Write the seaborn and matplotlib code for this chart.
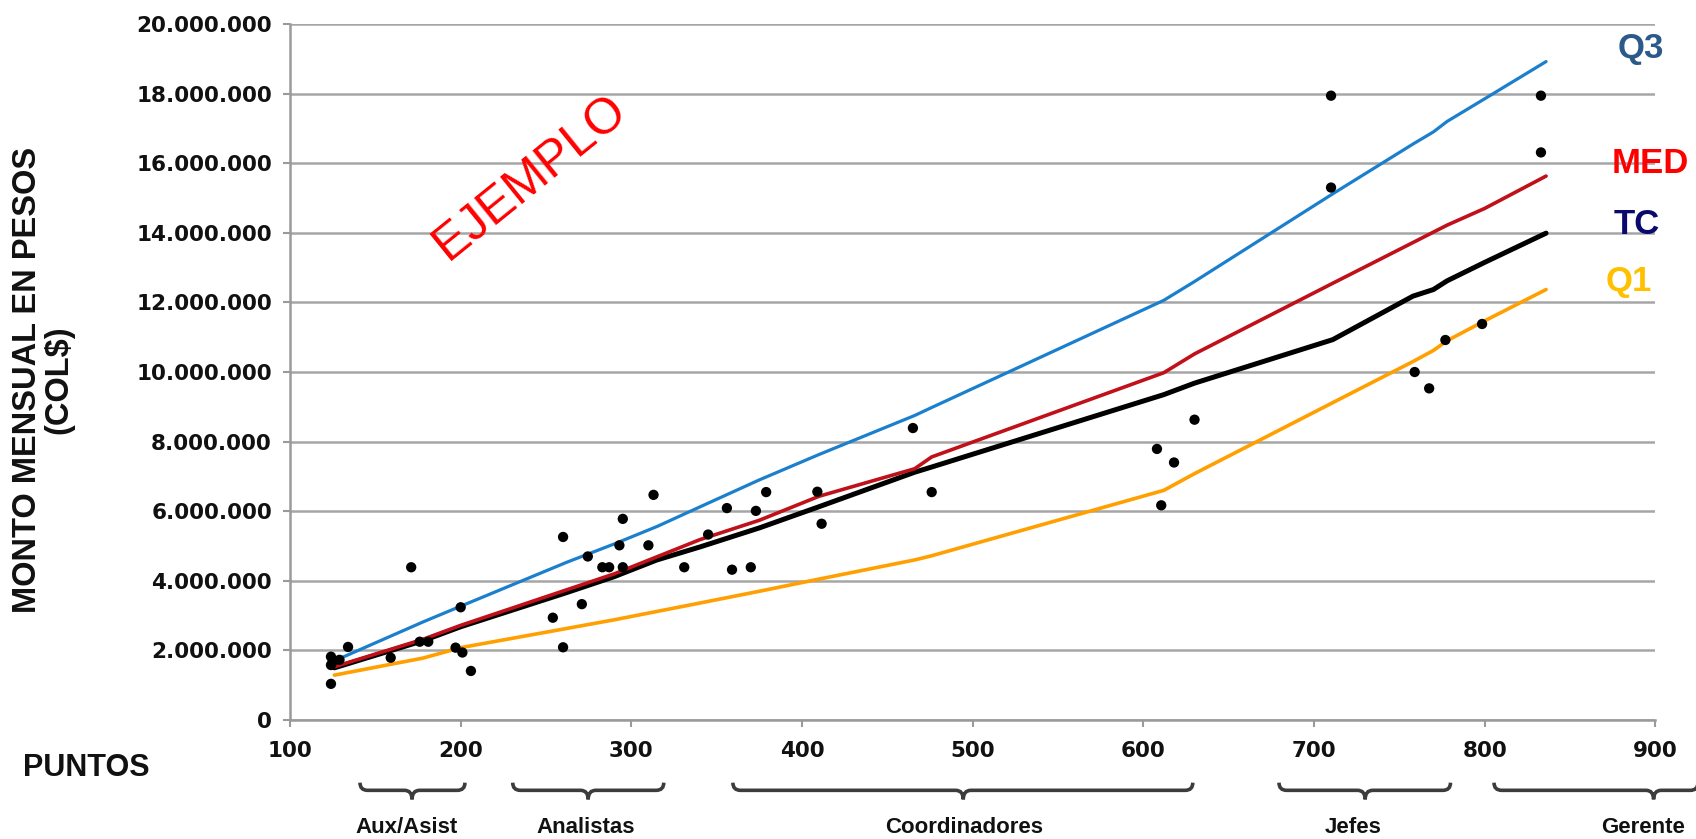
import numpy as np
import pandas as pd
import seaborn as sns
import matplotlib
matplotlib.use("Agg")
import matplotlib.pyplot as plt
from matplotlib.path import Path
from matplotlib.patches import PathPatch
from matplotlib.transforms import blended_transform_factory
from matplotlib.ticker import FuncFormatter, MultipleLocator

# --- salary curves (points vs. monthly amount, millions of COP) ---
curve_x = [126, 178, 200, 262, 290, 315, 340, 375, 410, 466, 476,
           612, 630, 711, 758, 770, 778, 800, 836]
q3_vals = [1.70, 2.82, 3.27, 4.53, 5.06, 5.56, 6.12, 6.90, 7.63, 8.75, 8.98,
           12.06, 12.60, 15.12, 16.55, 16.90, 17.20, 17.85, 18.92]
med_vals = [1.53, 2.32, 2.72, 3.74, 4.20, 4.69, 5.18, 5.74, 6.43, 7.22, 7.56,
            9.98, 10.52, 12.55, 13.72, 14.02, 14.22, 14.70, 15.63]
tc_vals = [1.50, 2.28, 2.68, 3.66, 4.12, 4.60, 4.97, 5.52, 6.13, 7.12, 7.27,
           9.35, 9.68, 10.93, 12.18, 12.37, 12.62, 13.15, 13.99]
q1_vals = [1.29, 1.78, 2.08, 2.63, 2.88, 3.12, 3.36, 3.70, 4.05, 4.60, 4.72,
           6.60, 7.08, 9.12, 10.30, 10.62, 10.90, 11.47, 12.37]

# --- individual positions ---
emp_points = [124, 124, 124, 125, 129, 134, 159, 171, 176, 181, 197, 201, 200, 206,
              254, 260, 260, 271, 274.5, 283, 287, 293, 295, 295, 310, 313, 331,
              345, 356, 359, 370, 373, 379, 409, 411.5, 465, 476,
              608, 610.5, 618, 630, 710, 710, 759, 767.5, 777, 798.5, 833, 833]
emp_salary = [1.82, 1.58, 1.04, 1.68, 1.73, 2.10, 1.79, 4.39, 2.25, 2.25, 2.08, 1.94, 3.24, 1.41,
              2.94, 2.09, 5.26, 3.33, 4.70, 4.39, 4.39, 5.02, 5.78, 4.39, 5.02, 6.47, 4.39,
              5.33, 6.09, 4.32, 4.39, 6.01, 6.55, 6.56, 5.64, 8.39, 6.55,
              7.79, 6.17, 7.40, 8.63, 17.94, 15.30, 10.00, 9.53, 10.92, 11.38, 17.94, 16.31]

# --- job-level groups shown under the points axis ---
group_names = ["Aux/Asist", "Analistas", "Coordinadores", "Jefes", "Gerente"]
group_start = [141, 230.5, 359.5, 679.5, 805.5]
group_end = [202.5, 319, 629, 780, 925]
group_mid = [171.5, 274.7, 494.5, 730, 899]
group_label_x = [168, 273, 495, 723, 893]

series_names = ["Q1", "TC", "MED", "Q3"]
series_colors = {"Q1": "#FF9F00", "TC": "#000000", "MED": "#C0101A", "Q3": "#1A7FCC"}
series_widths = {"Q1": 2.6, "TC": 3.6, "MED": 2.6, "Q3": 2.3}
label_colors = {"Q3": "#2B5A8A", "MED": "#FF0000", "TC": "#0A0A6E", "Q1": "#FFC000"}

curves = pd.concat([
    pd.DataFrame({"puntos": curve_x, "monto": np.array(v) * 1e6, "serie": s})
    for s, v in zip(series_names, [q1_vals, tc_vals, med_vals, q3_vals])
], ignore_index=True)
people = pd.DataFrame({"puntos": emp_points, "monto": np.array(emp_salary) * 1e6})

sns.set_theme(style="white")
plt.rcParams["font.family"] = ["DejaVu Sans"]
ARIAL = ["Liberation Sans", "DejaVu Sans"]

fig = plt.figure(figsize=(16.96, 8.39), dpi=100)
ax = fig.add_axes([0.171, 0.1418, 0.805, 0.8296])

for s in series_names:
    sns.lineplot(data=curves[curves["serie"] == s], x="puntos", y="monto",
                 color=series_colors[s], linewidth=series_widths[s],
                 estimator=None, sort=False, ax=ax, zorder=3)
sns.scatterplot(data=people, x="puntos", y="monto", color="black", s=55,
                edgecolor="none", ax=ax, zorder=5)

ax.set_xlim(100, 900)
ax.set_ylim(0, 20e6)
ax.xaxis.set_major_locator(MultipleLocator(100))
ax.yaxis.set_major_locator(MultipleLocator(2e6))
ax.yaxis.set_major_formatter(FuncFormatter(lambda v, p: f"{int(round(v)):,}".replace(",", ".")))
ax.set_xlabel("")
ax.set_ylabel("")

ax.grid(axis="y", color="#A6A6A6", linewidth=1.8, zorder=0)
ax.grid(axis="x", visible=False)
ax.set_axisbelow(True)
for side in ["top", "right"]:
    ax.spines[side].set_visible(False)
for side in ["left", "bottom"]:
    ax.spines[side].set_color("#9A9A9A")
    ax.spines[side].set_linewidth(1.8)
ax.tick_params(axis="both", which="major", direction="out", length=5, width=1.5,
               color="#9A9A9A", labelsize=15.5, labelcolor="#111111")
ax.tick_params(axis="x", pad=10, bottom=True)
ax.tick_params(axis="y", pad=8, left=True)
for lab in ax.get_xticklabels() + ax.get_yticklabels():
    lab.set_fontweight("bold")

# series labels on the right
label_pos = {"Q3": (891.6, 19.3e6), "MED": (896.8, 16.0e6), "TC": (889, 14.25e6), "Q1": (884.5, 12.6e6)}
for s, (lx, ly) in label_pos.items():
    ax.text(lx, ly, s, color=label_colors[s], fontsize=25, fontweight="bold",
            family=ARIAL, ha="center", va="center", clip_on=False, zorder=6)

ax.text(241, 15.6e6, "EJEMPLO", color="#FF0000", fontsize=36, rotation=39,
        ha="center", va="center", family=ARIAL, zorder=6)

fig.text(0.0160, 0.547, "MONTO MENSUAL EN PESOS", rotation=90, ha="center",
         va="center", fontsize=23.5, fontweight="bold", color="#111111", family=ARIAL)
fig.text(0.0345, 0.547, "(COL$)", rotation=90, ha="center",
         va="center", fontsize=23.5, fontweight="bold", color="#111111", family=ARIAL)
fig.text(0.051, 0.085, "PUNTOS", ha="center", va="center", fontsize=22,
         fontweight="bold", color="#111111", family=ARIAL)

# braces grouping job levels
trans = blended_transform_factory(ax.transData, ax.transAxes)
yt, ym, yb = -0.090, -0.101, -0.114
h = 4.5
for x0, x1, xm in zip(group_start, group_end, group_mid):
    verts = [(x0, yt), (x0, ym), (x0 + h, ym), (xm - h, ym), (xm, ym), (xm, yb),
             (xm, yb), (xm, ym), (xm + h, ym), (x1 - h, ym), (x1, ym), (x1, yt)]
    codes = [Path.MOVETO, Path.CURVE3, Path.CURVE3, Path.LINETO, Path.CURVE3, Path.CURVE3,
             Path.MOVETO, Path.CURVE3, Path.CURVE3, Path.LINETO, Path.CURVE3, Path.CURVE3]
    ax.add_patch(PathPatch(Path(verts, codes), facecolor="none", edgecolor="#3C3C3C",
                           linewidth=2.6, transform=trans, clip_on=False))
for name, lx in zip(group_names, group_label_x):
    ax.text(lx, -0.155, name, transform=trans, ha="center", va="center",
            fontsize=16, fontweight="bold", color="#111111", family=ARIAL, clip_on=False)

fig.savefig("out.png", dpi=100, facecolor="white")
